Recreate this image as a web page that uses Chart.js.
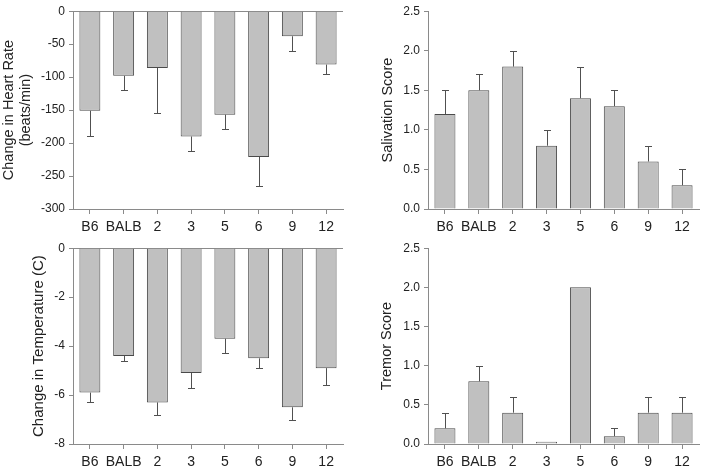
<!DOCTYPE html>
<html>
<head>
<meta charset="utf-8">
<script src="https://cdn.jsdelivr.net/npm/chart.js@4/dist/chart.umd.min.js"></script>
<style>
  html, body { margin: 0; padding: 0; background: #fff; }
  #wrap { position: relative; width: 704px; height: 474px; }
  canvas { position: absolute; }
</style>
</head>
<body>
<div id="wrap">
  <canvas id="c1" width="352" height="237" style="left:0;top:0"></canvas>
  <canvas id="c2" width="352" height="237" style="left:352px;top:0"></canvas>
  <canvas id="c3" width="352" height="237" style="left:0;top:237px"></canvas>
  <canvas id="c4" width="352" height="237" style="left:352px;top:237px"></canvas>
</div>
<script>
// ---- data ----
const categories = ['B6', 'BALB', '2', '3', '5', '6', '9', '12'];

const heartRate = [-151, -98, -86, -190, -157, -221, -38, -81];
const heartRateErr = [39, 22, 69, 22, 21, 44, 23, 15];

const salivation = [1.2, 1.5, 1.8, 0.8, 1.4, 1.3, 0.6, 0.3];
const salivationErr = [0.3, 0.2, 0.2, 0.2, 0.4, 0.2, 0.2, 0.2];

const temperature = [-5.9, -4.4, -6.3, -5.1, -3.7, -4.5, -6.5, -4.9];
const temperatureErr = [0.4, 0.2, 0.5, 0.6, 0.6, 0.4, 0.5, 0.7];

const tremor = [0.2, 0.8, 0.4, 0.03, 2.0, 0.1, 0.4, 0.4];
const tremorErr = [0.2, 0.2, 0.2, null, null, 0.1, 0.2, 0.2];

const heartTicks = { min: -300, max: 0, step: 50 };
const tempTicks = { min: -8, max: 0, step: 2 };
const scoreTicks = { min: 0, max: 2.5, step: 0.5 };

// ---- styles ----
const FONT = "'Liberation Sans', Arial, sans-serif";
const AXIS = '#8a8a8a';
const TEXT = '#222';
const BAR_FILL = '#c0c0c0';
const BAR_EDGE = '#4a4a4a';
const ERR = '#505050';

function makeErrorPlugin(errors) {
  return {
    id: 'errorBars',
    afterDatasetsDraw(chart) {
      const meta = chart.getDatasetMeta(0);
      const ys = chart.scales.y;
      const vals = chart.data.datasets[0].data;
      const ctx = chart.ctx;
      ctx.save();
      ctx.strokeStyle = ERR;
      ctx.lineWidth = 1;
      meta.data.forEach((bar, i) => {
        const e = errors[i];
        if (e == null) return;
        const v = vals[i];
        const end = v < 0 ? v - e : v + e;
        const x = Math.round(bar.x) + 0.5;
        const y0 = ys.getPixelForValue(v);
        const y1 = Math.round(ys.getPixelForValue(end)) + 0.5;
        ctx.beginPath();
        ctx.moveTo(x, y0);
        ctx.lineTo(x, y1);
        ctx.moveTo(x - 3.5, y1);
        ctx.lineTo(x + 3.5, y1);
        ctx.stroke();
      });
      ctx.restore();
    }
  };
}

function makeChart(id, values, errors, tk, cfg) {
  const negative = tk.max === 0;
  return new Chart(document.getElementById(id), {
    type: 'bar',
    data: {
      labels: categories,
      datasets: [{
        data: values,
        backgroundColor: BAR_FILL,
        borderColor: BAR_EDGE,
        borderWidth: 1,
        categoryPercentage: 1.0,
        barPercentage: 0.62
      }]
    },
    options: {
      responsive: false,
      animation: false,
      events: [],
      layout: {
        autoPadding: false,
        padding: { left: 0, right: cfg.right, top: cfg.top, bottom: 0 }
      },
      plugins: { legend: { display: false }, tooltip: { enabled: false } },
      scales: {
        x: {
          position: 'bottom',
          grid: { display: true, drawOnChartArea: false, drawTicks: true, offset: false,
                  tickLength: 5, tickColor: AXIS, color: AXIS },
          border: { display: true, color: AXIS, width: 1 },
          ticks: { color: TEXT, font: { family: FONT, size: 14 }, padding: 5, maxRotation: 0, autoSkip: false },
          afterFit(s) { s.height = cfg.xHeight; }
        },
        y: {
          min: tk.min, max: tk.max,
          grid: {
            display: true,
            drawOnChartArea: negative,
            drawTicks: true,
            tickLength: 4,
            tickColor: AXIS,
            color: (c) => (negative && c.tick && c.tick.value === 0) ? AXIS : 'rgba(0,0,0,0)'
          },
          border: { display: true, color: AXIS, width: 1 },
          ticks: {
            stepSize: tk.step,
            color: TEXT,
            padding: 4,
            font: { family: FONT, size: 12 },
            callback: (v) => tk.step < 1 ? Number(v).toFixed(1) : String(v)
          },
          title: {
            display: true,
            text: cfg.title,
            color: TEXT,
            font: { family: FONT, size: cfg.titleSize },
            padding: { top: cfg.titlePad, bottom: 0 }
          },
          afterFit(s) { s.width = cfg.yWidth; }
        }
      }
    },
    plugins: [makeErrorPlugin(errors)]
  });
}

makeChart('c1', heartRate, heartRateErr, heartTicks,
  { title: ['Change in Heart Rate', '(beats/min)'], titleSize: 14.5, titlePad: 0,
    yWidth: 73, right: 9, top: 6, xHeight: 28 });
makeChart('c2', salivation, salivationErr, scoreTicks,
  { title: 'Salivation Score', titleSize: 14.5, titlePad: 27,
    yWidth: 76, right: 5, top: 6, xHeight: 28 });
makeChart('c3', temperature, temperatureErr, tempTicks,
  { title: 'Change in Temperature (C)', titleSize: 15, titlePad: 30,
    yWidth: 73, right: 9, top: 4, xHeight: 30 });
makeChart('c4', tremor, tremorErr, scoreTicks,
  { title: 'Tremor Score', titleSize: 14.5, titlePad: 26,
    yWidth: 76, right: 5, top: 4, xHeight: 30 });
</script>
</body>
</html>
